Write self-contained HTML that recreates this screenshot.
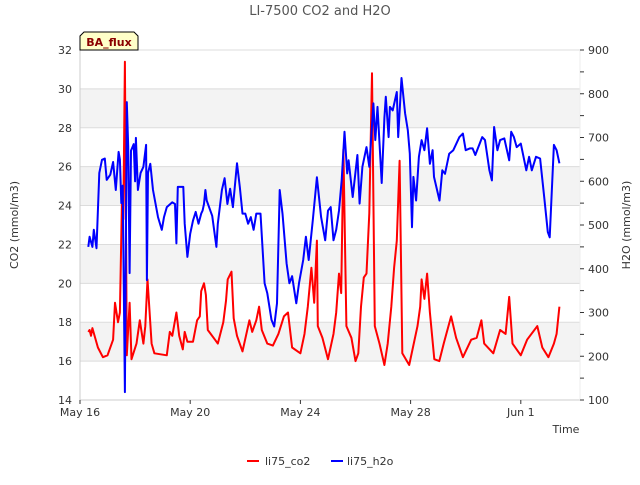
<!DOCTYPE html>
<html><head><meta charset="utf-8"><style>
body{margin:0;background:#fff;font-family:"Liberation Sans",sans-serif}
svg text{font-family:"DejaVu Sans","Liberation Sans",sans-serif}
</style></head><body>
<svg id="chart" width="640" height="480" xmlns="http://www.w3.org/2000/svg">
<rect width="640" height="480" fill="#fff"/>
<g id="bands"></g><g id="grid"></g>
<g id="series"></g>
<g id="axes"></g>
<text x="320" y="15" text-anchor="middle" font-size="13" fill="#555">LI-7500 CO2 and H2O</text>
<text transform="translate(18,225) rotate(-90)" text-anchor="middle" font-size="11" fill="#333">CO2 (mmol/m3)</text>
<text transform="translate(630,225) rotate(-90)" text-anchor="middle" font-size="11" fill="#333">H2O (mmol/m3)</text>
<text x="566" y="433" text-anchor="middle" font-size="11" fill="#333">Time</text>
<g>
<path d="M80,50 L80,36 L84,32 L134,32 L138,36 L138,50 Z" fill="#ffffc8" stroke="#000" stroke-width="1"/>
<text x="109" y="46" text-anchor="middle" font-size="11" font-weight="bold" fill="#8b0000">BA_flux</text>
</g>
<g>
<g><line x1="247" y1="461" x2="259" y2="461" stroke="#f00" stroke-width="2"/><text x="265" y="465" font-size="11" fill="#333">li75_co2</text></g>
<g><line x1="331" y1="461" x2="343" y2="461" stroke="#00f" stroke-width="2"/><text x="347" y="465" font-size="11" fill="#333">li75_h2o</text></g>
</g>
</svg>
<script>
const xTickDays=[16,20,24,28,32];
const xTickLabels=["May 16","May 20","May 24","May 28","Jun 1"];
const co2Ticks=[14,16,18,20,22,24,26,28,30,32];
const h2oTicks=[100,200,300,400,500,600,700,800,900];
const co2Days=[16.3,16.35,16.4,16.45,16.65,16.83,17.0,17.2,17.27,17.38,17.45,17.52,17.57,17.63,17.7,17.8,17.87,18.05,18.17,18.3,18.37,18.45,18.6,18.7,19.15,19.26,19.35,19.5,19.6,19.73,19.8,19.9,20.1,20.25,20.35,20.4,20.5,20.57,20.64,20.9,21.0,21.2,21.3,21.36,21.5,21.58,21.7,21.9,22.15,22.25,22.4,22.5,22.6,22.8,23.0,23.2,23.4,23.55,23.7,24.0,24.15,24.27,24.4,24.5,24.6,24.63,24.8,25.0,25.2,25.3,25.4,25.48,25.56,25.67,25.85,26.0,26.1,26.2,26.3,26.4,26.5,26.6,26.7,26.87,27.05,27.17,27.3,27.4,27.5,27.6,27.7,27.95,28.25,28.35,28.4,28.5,28.6,28.7,28.86,29.04,29.2,29.47,29.65,29.9,30.2,30.4,30.57,30.67,31.0,31.25,31.45,31.58,31.7,32.0,32.23,32.6,32.78,33.0,33.2,33.3,33.4];
const co2Values=[17.5,17.6,17.3,17.7,16.7,16.2,16.3,17.1,19.0,18.0,18.5,24.1,23.3,31.4,16.3,19.0,16.1,16.9,18.1,16.9,17.8,20.2,16.9,16.4,16.3,17.5,17.3,18.5,17.3,16.6,17.5,17.0,17.0,18.1,18.3,19.6,20.0,19.4,17.6,17.1,16.9,18.0,19.1,20.2,20.6,18.2,17.3,16.5,18.1,17.5,18.1,18.8,17.6,16.9,16.8,17.4,18.3,18.5,16.7,16.4,17.4,18.8,20.8,19.0,22.2,17.8,17.2,16.1,17.4,18.5,20.5,19.5,26.9,17.8,17.2,16.0,16.4,18.8,20.3,20.5,23.6,30.8,17.8,16.9,15.8,16.9,18.8,20.8,22.2,26.3,16.4,15.8,17.8,18.8,20.2,19.2,20.5,18.5,16.1,16.0,16.9,18.3,17.2,16.2,17.1,17.2,18.1,16.9,16.4,17.6,17.4,19.3,16.9,16.3,17.1,17.8,16.7,16.2,16.9,17.4,18.8];
const h2oDays=[16.3,16.35,16.45,16.5,16.6,16.7,16.8,16.9,16.97,17.1,17.2,17.3,17.4,17.45,17.5,17.55,17.63,17.7,17.75,17.8,17.85,17.95,18.0,18.03,18.1,18.2,18.3,18.4,18.43,18.47,18.55,18.65,18.83,18.97,19.05,19.15,19.35,19.45,19.5,19.55,19.75,19.8,19.9,20.0,20.1,20.2,20.3,20.4,20.45,20.5,20.55,20.6,20.8,20.95,21.0,21.15,21.25,21.35,21.45,21.55,21.7,21.8,21.9,22.0,22.1,22.2,22.3,22.4,22.55,22.7,22.8,22.95,23.05,23.15,23.25,23.35,23.5,23.6,23.7,23.85,23.95,24.1,24.2,24.3,24.45,24.6,24.75,24.9,25.0,25.1,25.2,25.3,25.4,25.5,25.6,25.7,25.75,25.9,26.07,26.15,26.25,26.4,26.5,26.65,26.72,26.8,26.95,27.05,27.1,27.2,27.25,27.35,27.5,27.55,27.67,27.8,27.9,27.97,28.05,28.1,28.2,28.3,28.4,28.5,28.6,28.7,28.8,28.85,29.05,29.15,29.25,29.4,29.55,29.77,29.9,30.0,30.15,30.25,30.35,30.6,30.7,30.86,30.95,31.03,31.15,31.25,31.4,31.58,31.65,31.75,31.85,32.0,32.2,32.3,32.4,32.55,32.7,32.85,32.98,33.05,33.2,33.3,33.4];
const h2oValues=[450,473,450,489,447,619,649,652,603,615,644,580,667,650,550,590,118,781,680,390,670,685,600,699,580,619,633,683,374,619,640,580,518,489,518,541,552,548,458,587,587,503,427,480,510,530,503,526,533,548,580,556,521,450,503,580,607,548,583,541,641,587,526,526,503,518,489,526,526,367,344,283,268,321,580,526,412,367,383,321,367,420,473,420,511,609,518,465,533,541,465,489,533,603,713,618,648,564,660,549,633,678,633,778,694,770,596,745,793,701,770,762,804,701,836,755,717,663,495,610,556,656,694,671,721,640,671,610,556,625,617,663,671,701,709,671,675,675,660,701,694,625,602,724,671,694,698,648,713,701,678,686,625,656,625,656,652,564,484,472,683,671,641];
const L=80,R=580,T=50,B=400;
const xs=d=>L+(d-16)*27.55;
const yC=v=>B-(v-14)*(B-T)/18;
const yH=v=>B-(v-100)*(B-T)/800;
const NS="http://www.w3.org/2000/svg";
function mk(tag,attrs,parent){const e=document.createElementNS(NS,tag);for(const k in attrs)e.setAttribute(k,attrs[k]);document.getElementById(parent).appendChild(e);return e;}
for(let i=0;i<co2Ticks.length-1;i++){if(i%2===1){const b=mk('rect',{x:L,y:yC(co2Ticks[i+1]),width:R-L,height:yC(co2Ticks[i])-yC(co2Ticks[i+1]),fill:'#f3f3f3'},'bands');

}}
co2Ticks.forEach(t=>{const g=mk('line',{x1:L,x2:R,y1:yC(t),y2:yC(t),stroke:'#dcdcdc','stroke-width':1},'grid');


const tx=mk('text',{x:L-8,y:yC(t)+4,'text-anchor':'end','font-size':11,fill:'#333'},'axes');tx.textContent=t;

});
mk('line',{x1:L,x2:L,y1:T,y2:B,stroke:'#ccc'},'axes');
mk('line',{x1:L,x2:R,y1:B,y2:B,stroke:'#ccc'},'axes');
mk('line',{x1:R,x2:R,y1:T,y2:B,stroke:'#eee'},'axes');
for(let v=100;v<=900;v+=50){mk('line',{x1:R,x2:R+4,y1:yH(v),y2:yH(v),stroke:'#333'},'axes');}
h2oTicks.forEach(t=>{const tx=mk('text',{x:R+8,y:yH(t)+4,'font-size':11,fill:'#333'},'axes');tx.textContent=t;

});
xTickDays.forEach((d,i)=>{mk('line',{x1:xs(d),x2:xs(d),y1:B,y2:B+4,stroke:'#333'},'axes');
const tx=mk('text',{x:xs(d),y:B+16,'text-anchor':'middle','font-size':11,fill:'#333'},'axes');tx.textContent=xTickLabels[i];

});
const pc=mk('path',{d:co2Days.map((d,i)=>(i?'L':'M')+xs(d).toFixed(1)+','+yC(co2Values[i]).toFixed(1)).join(''),fill:'none',stroke:'#f00','stroke-width':2,'stroke-linejoin':'round'},'series');


const ph=mk('path',{d:h2oDays.map((d,i)=>(i?'L':'M')+xs(d).toFixed(1)+','+yH(h2oValues[i]).toFixed(1)).join(''),fill:'none',stroke:'#00f','stroke-width':2,'stroke-linejoin':'round'},'series');


</script>
</body></html>
